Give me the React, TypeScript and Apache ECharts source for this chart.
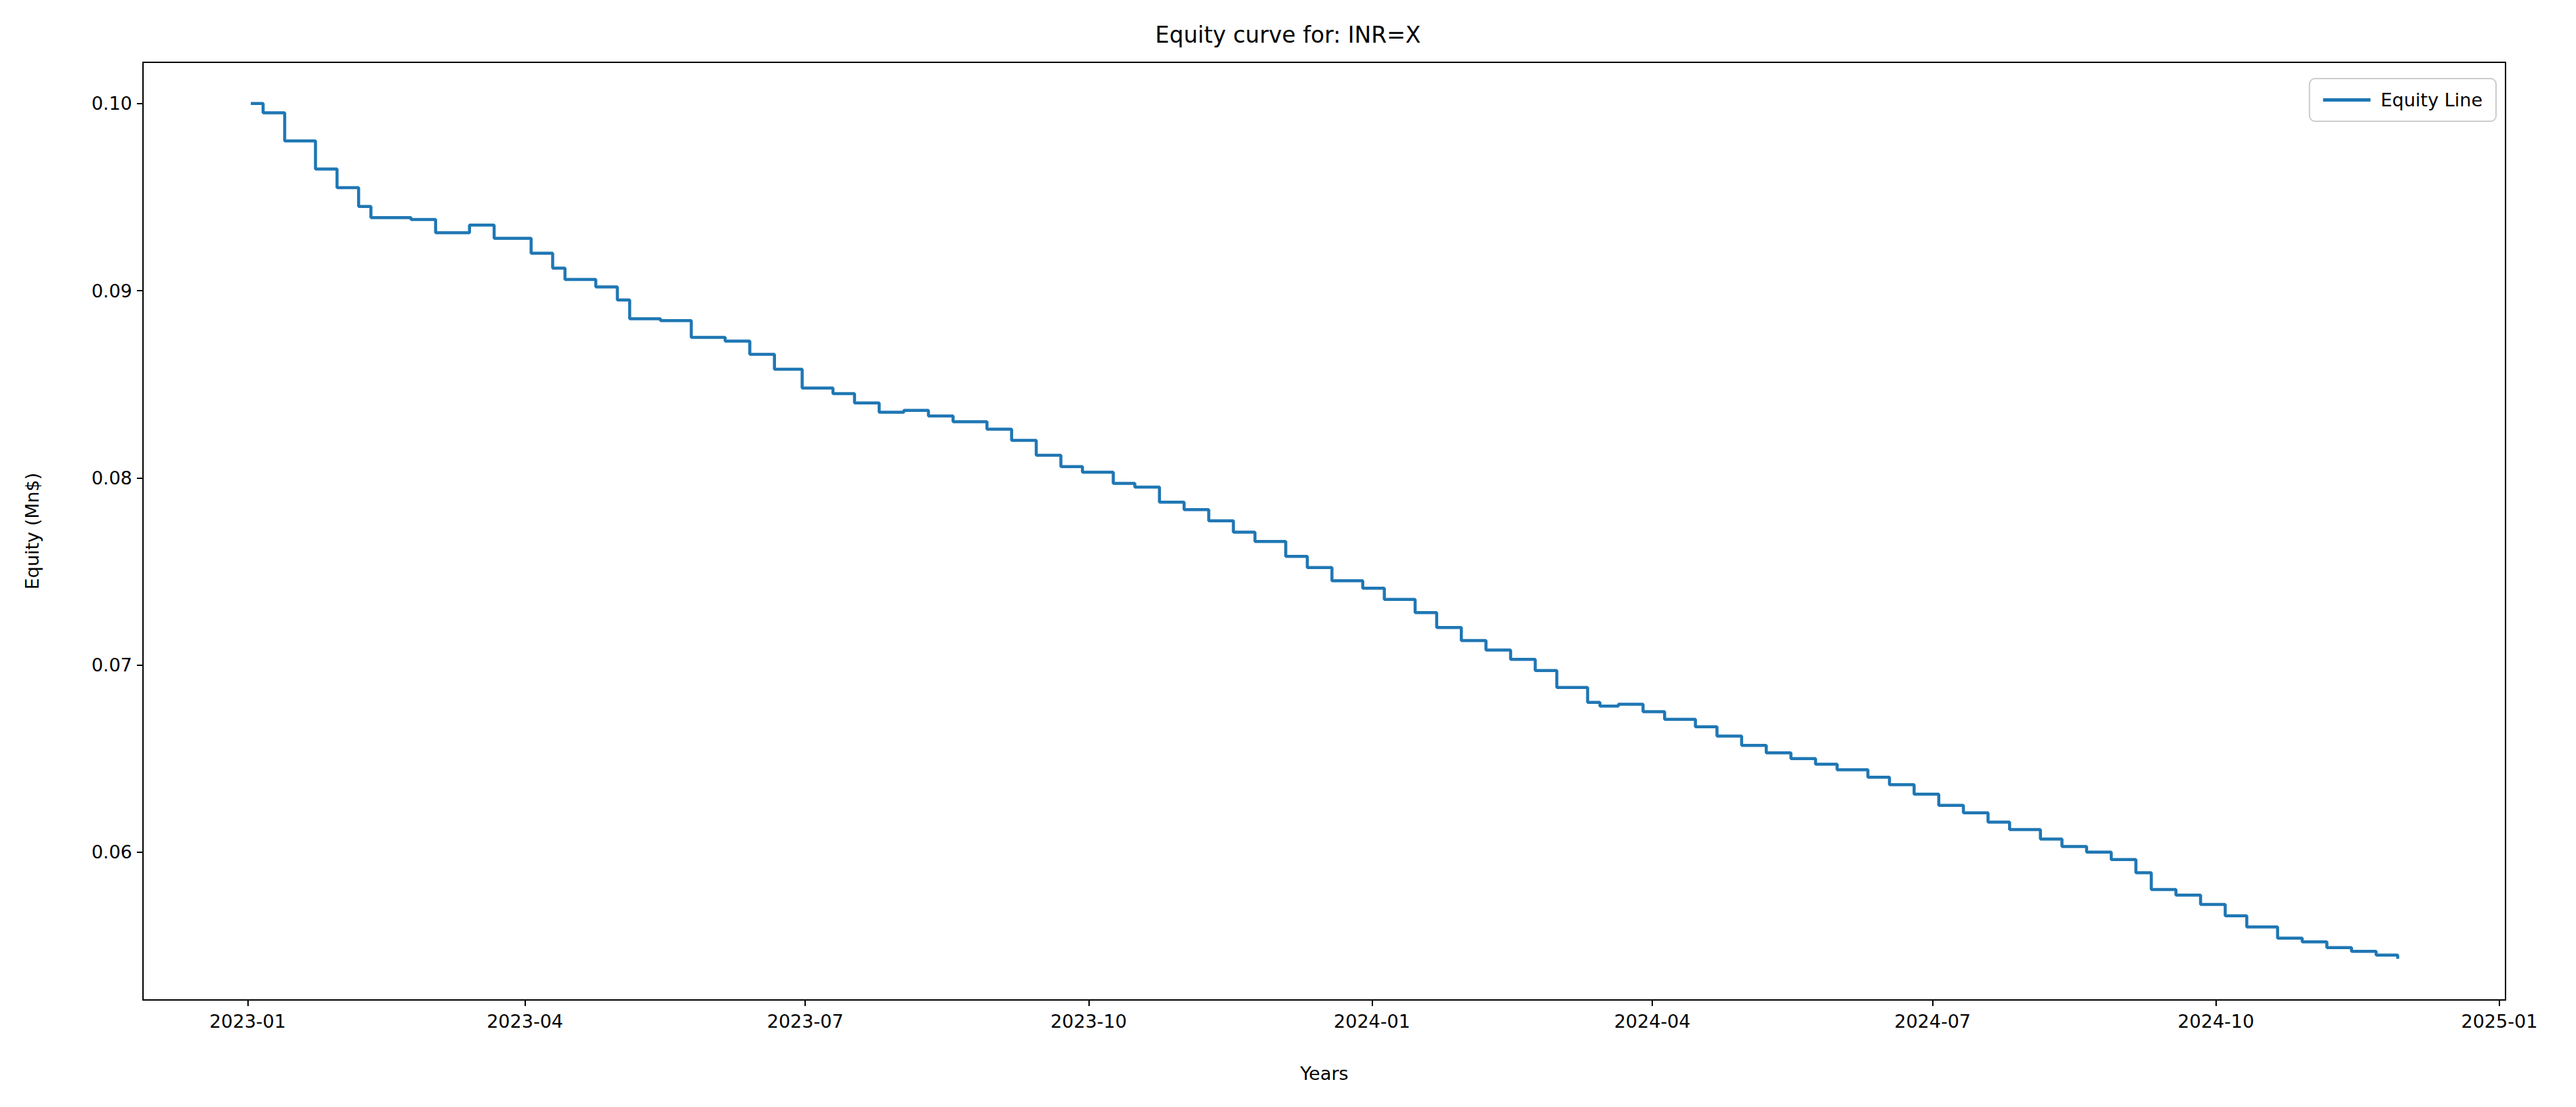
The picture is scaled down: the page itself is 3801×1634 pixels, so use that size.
import React, { useEffect, useRef } from 'react';
import * as echarts from 'echarts';

const dates = [
  '2023-01-02', '2023-01-06', '2023-01-13', '2023-01-23', '2023-01-30', '2023-02-06', '2023-02-10', '2023-02-23',
  '2023-03-03', '2023-03-14', '2023-03-22', '2023-04-03', '2023-04-10', '2023-04-14', '2023-04-24', '2023-05-01',
  '2023-05-05', '2023-05-15', '2023-05-25', '2023-06-05', '2023-06-13', '2023-06-21', '2023-06-30', '2023-07-10',
  '2023-07-17', '2023-07-25', '2023-08-02', '2023-08-10', '2023-08-18', '2023-08-29', '2023-09-06', '2023-09-14',
  '2023-09-22', '2023-09-29', '2023-10-09', '2023-10-16', '2023-10-24', '2023-11-01', '2023-11-09', '2023-11-17',
  '2023-11-24', '2023-12-04', '2023-12-11', '2023-12-19', '2023-12-29', '2024-01-05', '2024-01-15', '2024-01-22',
  '2024-01-30', '2024-02-07', '2024-02-15', '2024-02-23', '2024-03-01', '2024-03-11', '2024-03-15', '2024-03-21',
  '2024-03-29', '2024-04-05', '2024-04-15', '2024-04-22', '2024-04-30', '2024-05-08', '2024-05-16', '2024-05-24',
  '2024-05-31', '2024-06-10', '2024-06-17', '2024-06-25', '2024-07-03', '2024-07-11', '2024-07-19', '2024-07-26',
  '2024-08-05', '2024-08-12', '2024-08-20', '2024-08-28', '2024-09-05', '2024-09-10', '2024-09-18', '2024-09-26',
  '2024-10-04', '2024-10-11', '2024-10-21', '2024-10-29', '2024-11-06', '2024-11-14', '2024-11-22', '2024-11-29',
];

const equity = [
  0.1, 0.0995, 0.098, 0.0965, 0.0955, 0.0945, 0.0939, 0.0938,
  0.0931, 0.0935, 0.0928, 0.092, 0.0912, 0.0906, 0.0902, 0.0895,
  0.0885, 0.0884, 0.0875, 0.0873, 0.0866, 0.0858, 0.0848, 0.0845,
  0.084, 0.0835, 0.0836, 0.0833, 0.083, 0.0826, 0.082, 0.0812,
  0.0806, 0.0803, 0.0797, 0.0795, 0.0787, 0.0783, 0.0777, 0.0771,
  0.0766, 0.0758, 0.0752, 0.0745, 0.0741, 0.0735, 0.0728, 0.072,
  0.0713, 0.0708, 0.0703, 0.0697, 0.0688, 0.068, 0.0678, 0.0679,
  0.0675, 0.0671, 0.0667, 0.0662, 0.0657, 0.0653, 0.065, 0.0647,
  0.0644, 0.064, 0.0636, 0.0631, 0.0625, 0.0621, 0.0616, 0.0612,
  0.0607, 0.0603, 0.06, 0.0596, 0.0589, 0.058, 0.0577, 0.0572,
  0.0566, 0.056, 0.0554, 0.0552, 0.0549, 0.0547, 0.0545, 0.0543,
];

const xTicks = [
  '2023-01-01', '2023-04-01', '2023-07-01', '2023-10-01', '2024-01-01',
  '2024-04-01', '2024-07-01', '2024-10-01', '2025-01-01',
];
const yTicks = [0.06, 0.07, 0.08, 0.09, 0.1];

const FONT = 'DejaVu Sans, sans-serif';
const ts = (d: string) => new Date(d + 'T00:00:00Z').getTime();

const App: React.FC = () => {
  const chartRef = useRef<HTMLDivElement>(null);

  useEffect(() => {
    if (!chartRef.current) return;
    const chart = echarts.init(chartRef.current, null, { renderer: 'svg' });
    const tickTimes = xTicks.map(ts);

    chart.setOption({
      animation: false,
      backgroundColor: '#ffffff',
      title: {
        text: 'Equity curve for: INR=X',
        left: 'center',
        top: 22,
        textStyle: { fontFamily: FONT, fontSize: 33, fontWeight: 'normal', color: '#000' },
      },
      legend: {
        right: 110,
        top: 108,
        orient: 'vertical',
        backgroundColor: '#fff',
        borderColor: '#cccccc',
        borderWidth: 2,
        borderRadius: 8,
        padding: [18, 20, 18, 20],
        itemWidth: 70,
        itemHeight: 5,
        icon: 'rect',
        textStyle: { fontFamily: FONT, fontSize: 27, color: '#000', padding: [0, 0, 0, 10] },
        data: ['Equity Line'],
      },
      grid: {
        left: 203,
        top: 84,
        right: 96,
        bottom: 150,
        show: true,
        borderColor: '#000',
        borderWidth: 2,
      },
      xAxis: {
        type: 'value',
        min: ts('2022-11-28'),
        max: ts('2025-01-03'),
        name: 'Years',
        nameLocation: 'middle',
        nameGap: 95,
        nameTextStyle: { fontFamily: FONT, fontSize: 27, color: '#000' },
        axisLine: { show: true, onZero: false, lineStyle: { color: '#000', width: 2 } },
        axisTick: { show: true, length: 9, lineStyle: { color: '#000', width: 2 }, customValues: tickTimes },
        axisLabel: {
          customValues: tickTimes,
          margin: 18,
          fontFamily: FONT,
          fontSize: 27,
          color: '#000',
          formatter: (v: number) => {
            const d = new Date(v);
            return `${d.getUTCFullYear()}-${String(d.getUTCMonth() + 1).padStart(2, '0')}`;
          },
        },
        splitLine: { show: false },
      },
      yAxis: {
        type: 'value',
        min: 0.0521,
        max: 0.1022,
        name: 'Equity (Mn$)',
        nameLocation: 'middle',
        nameGap: 150,
        nameTextStyle: { fontFamily: FONT, fontSize: 27, color: '#000' },
        axisLine: { show: true, lineStyle: { color: '#000', width: 2 } },
        axisTick: { show: true, length: 9, lineStyle: { color: '#000', width: 2 }, customValues: yTicks },
        axisLabel: {
          customValues: yTicks,
          margin: 16,
          fontFamily: FONT,
          fontSize: 27,
          color: '#000',
          formatter: (v: number) => v.toFixed(2),
        },
        splitLine: { show: false },
      },
      series: [
        {
          name: 'Equity Line',
          type: 'line',
          step: 'end',
          showSymbol: false,
          symbol: 'none',
          color: '#1f77b4',
          lineStyle: { width: 4.5, color: '#1f77b4' },
          data: dates.map((d, i) => [ts(d), equity[i]]),
        },
      ],
    });

    return () => chart.dispose();
  }, []);

  return <div ref={chartRef} style={{ width: 3785, height: 1618 }} />;
};

export default App;
